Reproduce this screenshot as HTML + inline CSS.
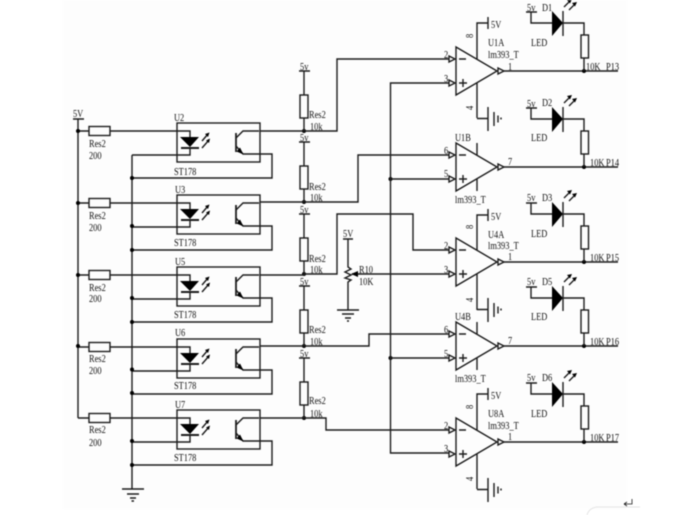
<!DOCTYPE html>
<html><head><meta charset="utf-8"><style>
html,body{margin:0;padding:0;background:#fff;width:680px;height:515px;overflow:hidden}
svg{display:block;filter:blur(.4px)}
text{font-family:"Liberation Serif",serif;font-size:10.5px;fill:#111;transform-box:fill-box;transform-origin:0 50%;transform:scaleX(.8)}
.w{fill:none;stroke:#1c1c1c;stroke-width:1.4}
.b{fill:#000;stroke:none}
</style></head><body>
<svg width="680" height="515" viewBox="0 0 680 515" xmlns="http://www.w3.org/2000/svg">
<defs>
<g id="opto">
 <rect class="w" x="177" y="0" width="83" height="39"/>
 <path class="w" d="M78 8H89M110 8H190V14M190 24V32H132M259 8H243L236 15M236 23L243 31H272V55H132"/>
 <rect class="w" x="89" y="3.500" width="21" height="9"/>
 <path class="b" d="M180 14H199L190 24Z"/>
 <path class="w" style="stroke-width:2" d="M181 25H199"/>
 <path class="w" d="M236 10V29" style="stroke-width:1.8"/>
 <path class="b" d="M243.500 31.500L236.500 28.500L240 24.500Z"/>
 <path class="w" d="M202 18L208 11M202 25L209 17"/>
 <path class="b" d="M209.500 9.500L205 11L208 14ZM210 15.500L206 17.500L209 20Z"/>
</g>
<g id="opout">
 <path class="w" d="M456 -24L497 0L456 24Z"/>
 <path class="w" d="M449 -15L455 -12L449 -9ZM449 9L455 12L449 15ZM498 -3L504 0L498 3Z"/>
 <path class="w" d="M504 0H618"/>
 <path class="w" d="M459 -12H466M459 12H467M463 8V16"/>
 <circle class="b" cx="584" cy="0" r="2"/>
</g>
<g id="led">
 <path class="b" d="M552 -12L563 0L552 13Z"/>
 <path class="w" d="M563 -12V13M552 0H531V-11M526 -11H537M563 0H584V12M584 35V48"/>
 <rect class="w" x="581" y="12" width="7.500" height="23"/>
 <path class="w" d="M564 -16L570 -22M569 -13L575 -19"/>
 <path class="b" d="M572 -24L567 -23L570 -19.500ZM577 -21L572 -20L575 -16.500Z"/>
</g>
<g id="gnd"><path class="w" d="M477 0H488M488 -11.500V12.500M494 -6.500V7.500M498 -3V4M501 -1V1"/></g>
<g id="pull"><path class="w" d="M299 0H310M304 0V24M304 47V60"/><rect class="w" x="300" y="24" width="8" height="23"/></g>
</defs>
<rect width="680" height="515" fill="#fff"/>
<rect x="63" y="0" width="564" height="509" fill="#fdfdfd"/>
<path d="M587 515Q589 508 597 507H640" fill="none" stroke="#e4e4e4" stroke-width="1"/>
<path class="w" d="M624 504H632V499M624 504L627 502M624 504L627 506" style="stroke-width:.8"/>

<path class="w" d="M73 119H84M78 119V418"/>
<path class="w" d="M132 155V489M122 489H144M127 494H139M130 498H136M131.500 501H134"/>
<use href="#opto" x="0" y="123"/><use href="#opto" x="0" y="195"/><use href="#opto" x="0" y="267"/><use href="#opto" x="0" y="339"/><use href="#opto" x="0" y="410"/>
<g class="b">
<circle cx="78" cy="131" r="2"/><circle cx="78" cy="203" r="2"/><circle cx="78" cy="275" r="2"/><circle cx="78" cy="346" r="2"/>
<circle cx="132" cy="178" r="2"/><circle cx="132" cy="226" r="2"/><circle cx="132" cy="250" r="2"/><circle cx="132" cy="298" r="2"/><circle cx="132" cy="322" r="2"/><circle cx="132" cy="369.500" r="2"/><circle cx="132" cy="393" r="2"/><circle cx="132" cy="441" r="2"/><circle cx="132" cy="465" r="2"/>
<circle cx="304" cy="131" r="2"/><circle cx="304" cy="202" r="2"/><circle cx="304" cy="274" r="2"/><circle cx="304" cy="346" r="2"/><circle cx="304" cy="418" r="2"/>
<circle cx="390.500" cy="179" r="2"/><circle cx="390.500" cy="358" r="2"/>
</g>

<use href="#pull" x="0" y="71"/><use href="#pull" x="0" y="142"/><use href="#pull" x="0" y="214"/><use href="#pull" x="0" y="286"/><use href="#pull" x="0" y="358"/>

<path class="w" d="M260 131H337V59H449"/>
<path class="w" d="M260 202H358V155H449"/>
<path class="w" d="M260 275H304V274H337V214H413V250H449"/>
<path class="w" d="M352 274H449"/>
<path class="w" d="M260 346H369V334H449"/>
<path class="w" d="M260 418H326V430H449"/>
<path class="w" d="M449 83H390.500V453H449M390.500 179H449M390.500 358H449"/>

<path class="w" d="M343 239H353M348 239V267L351 269L345 272L351 275L345 278L351 280L348 282V310M337 310H359M342 314H354M345 318H351M347 321H349"/>
<path class="b" d="M351 274L358 271V277Z"/>

<use href="#opout" x="0" y="71"/><use href="#opout" x="0" y="167"/><use href="#opout" x="0" y="262"/><use href="#opout" x="0" y="346"/><use href="#opout" x="0" y="442"/>
<path class="w" d="M477 59V23H488M488 17V29M477 250V215H488M488 209V221M477 430V394H488M488 388V400"/>
<path class="w" d="M477 83V118M477 274V310M477 454V489"/>
<use href="#gnd" x="0" y="118.500"/><use href="#gnd" x="0" y="309.500"/><use href="#gnd" x="0" y="489.500"/>
<path class="w" d="M477 143V155M477 179V191M477 322V334M477 358V370"/>

<use href="#led" x="0" y="23"/><use href="#led" x="0" y="119"/><use href="#led" x="0" y="214"/><use href="#led" x="0" y="298"/><use href="#led" x="0" y="394"/>

<text x="73" y="117">5V</text>
<text x="174" y="121">U2</text><text x="175" y="193">U3</text><text x="175" y="265">U5</text><text x="175" y="336">U6</text><text x="175" y="408">U7</text>
<text x="174" y="175">ST178</text><text x="174" y="246">ST178</text><text x="174" y="318">ST178</text><text x="174" y="389">ST178</text><text x="174" y="461">ST178</text>
<text x="89" y="147">Res2</text><text x="89" y="159">200</text>
<text x="89" y="219">Res2</text><text x="89" y="231">200</text>
<text x="89" y="291">Res2</text><text x="89" y="302">200</text>
<text x="89" y="362">Res2</text><text x="89" y="374">200</text>
<text x="89" y="433">Res2</text><text x="89" y="446">200</text>
<text x="300" y="70">5v</text><text x="300" y="141">5v</text><text x="300" y="213">5v</text><text x="300" y="285">5v</text><text x="300" y="357">5v</text>
<text x="309" y="118">Res2</text><text x="310" y="130">10k</text>
<text x="309" y="190">Res2</text><text x="310" y="201">10k</text>
<text x="309" y="262">Res2</text><text x="310" y="273">10k</text>
<text x="309" y="333">Res2</text><text x="310" y="345">10k</text>
<text x="309" y="404">Res2</text><text x="310" y="417">10k</text>
<text x="343" y="237">5V</text><text x="359" y="273">R10</text><text x="359" y="285">10K</text>
<text x="491" y="28">5V</text><text x="491" y="220">5V</text><text x="491" y="399">5V</text>
<text x="488" y="46">U1A</text><text x="488" y="58">lm393_T</text>
<text x="455" y="141">U1B</text><text x="455" y="203">lm393_T</text>
<text x="488" y="238">U4A</text><text x="488" y="249">lm393_T</text>
<text x="455" y="320">U4B</text><text x="455" y="382">lm393_T</text>
<text x="488" y="417">U8A</text><text x="488" y="429">lm393_T</text>
<text x="444" y="58">2</text><text x="444" y="82">3</text><text x="444" y="154">6</text><text x="444" y="177">5</text><text x="444" y="249">2</text><text x="444" y="273">3</text><text x="444" y="333">6</text><text x="444" y="357">5</text><text x="444" y="429">2</text><text x="444" y="452">3</text>
<text x="508" y="70">1</text><text x="508" y="165">7</text><text x="508" y="260">1</text><text x="508" y="344">7</text><text x="508" y="440">1</text>
<g transform="translate(473,38) rotate(-90)"><text x="0" y="0">8</text></g>
<g transform="translate(473,229) rotate(-90)"><text x="0" y="0">8</text></g>
<g transform="translate(473,409) rotate(-90)"><text x="0" y="0">8</text></g>
<g transform="translate(473,110) rotate(-90)"><text x="0" y="0">4</text></g>
<g transform="translate(473,302) rotate(-90)"><text x="0" y="0">4</text></g>
<g transform="translate(473,481) rotate(-90)"><text x="0" y="0">4</text></g>
<text x="527" y="11">5v</text><text x="542" y="11">D1</text><text x="531" y="46">LED</text>
<text x="527" y="107">5v</text><text x="542" y="106">D2</text><text x="531" y="141">LED</text>
<text x="527" y="201">5v</text><text x="542" y="201">D3</text><text x="531" y="237">LED</text>
<text x="527" y="285">5v</text><text x="542" y="285">D5</text><text x="531" y="320">LED</text>
<text x="527" y="381">5v</text><text x="542" y="381">D6</text><text x="531" y="417">LED</text>
<text x="586" y="70">10K</text><text x="606" y="70">P13</text>
<text x="590" y="166">10K</text><text x="606" y="166">P14</text>
<text x="590" y="261">10K</text><text x="606" y="261">P15</text>
<text x="590" y="345">10K</text><text x="606" y="345">P16</text>
<text x="590" y="441">10K</text><text x="606" y="441">P17</text>
</svg>
</body></html>
